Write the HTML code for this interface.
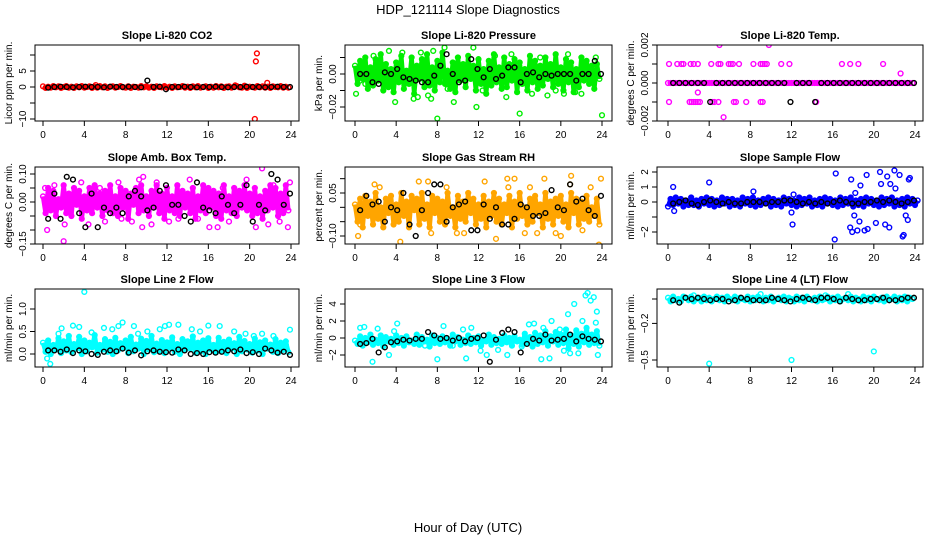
<!DOCTYPE html>
<html><head><meta charset="utf-8"><style>
html,body{margin:0;padding:0;background:#fff;}
svg{display:block;font-family:"Liberation Sans",sans-serif;}
</style></head><body>
<svg id="chart" width="936" height="540" viewBox="0 0 936 540" xmlns="http://www.w3.org/2000/svg">
<rect width="936" height="540" fill="#fff"/>
<text x="468" y="14" text-anchor="middle" font-size="13">HDP_121114  Slope Diagnostics</text>
<text x="468" y="532" text-anchor="middle" font-size="13">Hour of Day (UTC)</text>
</svg>
<script>
// ---- data (band values every 0.25 h; black reference every 0.6 h from 0.5 h; outliers explicit) ----
const hourTicks=[0,4,8,12,16,20,24];
const co2Band=[2,-3,1,-2,3,-1,2,-3,0,3,-2,1,-3,2,-1,3,-2,0,2,-3,1,-2,3,-1,2,-3,1,2,-2,0,3,-1,-2,2,-3,1,0,-2,3,-1,2,-2,1,-3,2,0,-1,3,-2,1,-3,2,-1,0,3,-2,1,-3,2,-1,3,-2,0,2,-3,1,-2,3,-1,2,-3,1,2,-2,0,3,-1,-2,4,-3,1,0,-2,3,-1,2,-2,1,-3,2,0,-1,3,-2,1,-2];
const co2OutHours=[20.5,20.6,20.7,21.7,18.6,5.1];
const co2OutValues=[-100,80,105,13,5,6];
const co2Black=[-2,0,1,0,-1,0,1,0,0,-1,1,0,0,1,0,-1,20,0,1,-7,0,0,1,0,-1,0,0,1,0,-1,0,0,1,0,0,-1,0,1,0,0];
const presBand=[5,-6,8,-3,10,-9,4,-7,9,-4,12,-10,6,-8,3,-11,7,-5,11,-9,2,-6,10,-12,5,-3,9,-8,12,-7,4,-10,8,-5,13,-6,2,-9,7,-11,10,-4,6,-8,11,-3,5,-10,9,-6,3,-12,8,-7,12,-5,4,-9,10,-8,6,-4,9,-11,7,-6,3,-10,11,-5,8,-9,5,-7,10,-3,6,-8,12,-6,4,-10,9,-5,7,-11,3,-8,10,-4,8,-6,5,-9,6,-3];
const presOutHours=[0.1,0.5,1.0,1.8,3.3,3.9,4.6,5.7,6.1,6.4,7.1,7.4,7.6,8.0,8.7,9.0,9.6,11.5,11.8,12.4,13.6,14.7,15.2,16.0,17.2,18.0,18.7,19.5,20.3,20.7,21.4,22.0,23.4,24.0];
const presOutValues=[-12,-4,-6,11,14,-17,13,-15,-14,13,-13,-15,14,-27,16,-9,-17,16,-20,-10,11,-14,12,-24,-12,10,-13,-10,-12,12,-11,-12,10,-25];
const presBlack=[0,0,-5,-6,1,0,3,-2,-3,-4,-5,-5,-1,5,12,0,-5,-4,9,3,-2,3,-3,-1,4,4,-5,0,1,-2,0,-1,0,0,0,-4,0,0,8,0];
const tempBand=[0,0,0,0,0,0,0,0,0,0,0,0,0,0,0,0,0,0,0,0,0,0,0,0,0,0,0,0,0,0,0,0,0,0,0,0,0,0,0,0,0,0,0,0,0,0,0,0,0,0,0,0,0,0,0,0,0,0,0,0,0,0,0,0,0,0,0,0,0,0,0,0,0,0,0,0,0,0,0,0,0,0,0,0,0,0,0,0,0,0,0,0,0,0,0,0];
const tempOutHours=[0.1,0.9,1.3,1.5,2.2,2.5,2.9,4.2,4.9,5.1,5.9,6.1,6.3,6.9,8.3,9.0,9.2,9.4,9.6,11.0,11.8,16.9,17.7,18.5,20.9,5.0,9.8,0.1,2.1,2.3,2.5,2.7,2.9,3.1,4.3,4.5,4.9,6.4,6.6,7.6,9.0,9.2,14.4,2.9,5.4,22.6];
const tempOutValues=[10,10,10,10,10,10,10,10,10,10,10,10,10,10,10,10,10,10,10,10,10,10,10,10,10,20,20,-10,-10,-10,-10,-10,-10,-10,-10,-10,-10,-10,-10,-10,-10,-10,-10,-5,-18,5];
const tempBlack=[0,0,0,0,0,0,-10,0,0,0,0,0,0,0,0,0,0,0,0,-10,0,0,0,-10,0,0,0,0,0,0,0,0,0,0,0,0,0,0,0,0];
const boxBand=[2,-4,5,-3,4,-5,1,-2,6,-4,3,-5,5,-1,4,-6,2,-3,5,-4,6,-2,3,-5,4,-3,6,-4,2,-5,5,-2,4,-6,3,-1,5,-4,6,-3,2,-5,4,-2,6,-4,3,-6,5,-3,2,-4,6,-5,4,-2,3,-4,5,-6,2,-3,6,-4,5,-2,4,-5,3,-6,6,-3,2,-4,5,-5,4,-2,6,-3,3,-5,5,-4,2,-6,4,-3,6,-2,5,-5,3,-4,6,-3];
const boxOutHours=[0.2,0.4,1.1,2.0,2.1,3.7,4.4,5.5,6.0,7.3,7.6,8.6,9.3,9.6,9.7,10.5,11.0,12.2,13.1,14.2,15.0,16.1,16.9,17.4,18.0,19.7,20.6,21.2,21.8,22.3,22.9,23.7,23.9];
const boxOutValues=[5,-10,6,-14,-8,7,-8,5,-7,7,-6,-7,8,-9,9,-8,7,-7,-6,8,-6,-9,-9,5,-7,8,-9,12,-8,6,-7,-9,7];
const boxBlack=[-6,3,-6,9,8,-4,-9,3,-9,-2,-4,-2,-4,2,4,2,-3,-2,4,6,-1,-1,-5,-7,7,-2,-3,-4,2,-1,-4,-1,6,-7,-1,-3,10,8,-1,3];
const rhBand=[1,-5,3,-7,4,-3,2,-6,5,-4,0,-7,3,-2,4,-6,1,-5,5,-3,2,-7,4,-1,3,-6,5,-4,1,-7,4,-2,3,-5,2,-6,5,-3,0,-7,4,-4,2,-5,5,-2,3,-6,1,-4,4,-7,2,-3,5,-5,3,-6,1,-2,4,-7,2,-4,5,-3,0,-6,3,-5,4,-2,1,-7,5,-4,2,-6,3,-3,4,-5,1,-7,5,-2,3,-6,2,-4,4,-5,0,-3,3,-6];
const rhOutHours=[0.3,0.5,1.9,2.4,4.4,6.2,7.1,7.4,8.9,9.9,10.6,12.6,13.7,14.8,14.9,15.5,16.5,17.0,17.7,18.4,19.5,20.0,20.9,21.0,22.1,22.9,23.7,23.9];
const rhOutValues=[-10,-6,8,7,-12,9,9,-9,7,-9,-9,9,-11,10,7,10,-9,7,-9,10,-9,-10,8,11,-8,7,-13,10];
const rhBlack=[-1,4,1,2,-5,0,-1,5,-6,-10,-1,5,8,8,-5,0,1,2,-8,-8,1,-4,0,-6,-6,-4,1,0,-3,-3,-2,6,0,-1,8,2,3,-1,-3,4];
const flowBand=[-3,2,-2,3,-1,2,-3,1,-2,3,-2,1,-3,2,-1,3,-2,2,-3,1,-2,3,-1,2,-3,2,-2,1,-3,3,-1,2,-2,3,-3,1,-2,2,-1,3,-3,2,-2,1,-3,3,-1,2,-2,1,-3,3,-2,2,-1,3,-3,1,-2,2,-3,3,-1,2,-2,1,-3,3,-2,2,-1,3,-3,1,-2,2,-3,3,-1,2,-2,1,-3,3,-2,2,-1,3,-3,1,-2,2,-3,3,-1,2,-2,1];
const flowOutHours=[0.5,0.6,4.0,8.3,12.0,12.1,12.2,16.2,16.3,17.7,17.8,17.9,18.1,18.2,18.4,18.6,18.7,19.1,19.3,19.4,20.2,20.6,20.7,21.1,21.3,21.5,21.6,22.0,22.1,22.5,22.8,22.9,23.1,23.3,23.4,23.5];
const flowOutValues=[10,-6,13,7,-7,-15,5,-25,19,-17,15,-20,-9,6,-19,-13,11,-19,18,-18,-14,20,12,-15,17,-17,12,21,9,18,-23,-22,-9,-12,15,16];
const flowBlack=[-1,0,1,-1,-2,0,1,0,-1,0,-1,-1,0,0,0,-1,0,0,1,1,0,-1,0,-1,0,-1,0,1,0,-1,-1,0,0,1,0,1,0,-1,0,1];
const l2Band=[25,5,30,0,20,10,35,2,28,8,40,4,22,12,38,0,30,6,25,15,42,3,20,10,33,5,27,0,36,8,24,14,30,2,38,6,21,12,34,0,29,10,40,4,23,8,31,2,26,14,37,5,22,0,33,9,28,12,39,3,25,6,30,0,35,10,20,4,36,8,27,2,32,12,24,0,38,6,29,10,22,3,34,8,26,0,30,12,21,5,33,2,25,9,28,4];
const l2OutHours=[0.4,0.7,1.5,1.8,2.9,3.5,4.0,4.7,5.9,6.7,7.3,7.7,8.8,9.2,10.1,11.3,11.8,12.2,13.1,14.4,15.2,16.0,17.1,18.5,19.6,20.4,21.2,22.3,23.5,23.9];
const l2OutValues=[-10,-22,45,57,63,60,138,48,58,55,62,70,62,45,50,55,62,65,65,55,50,63,62,50,45,40,45,40,20,54];
const l2Black=[8,8,5,10,2,8,6,0,-2,5,8,6,12,3,8,-3,6,8,5,4,3,10,8,0,2,0,4,3,5,8,6,10,2,4,0,12,8,3,5,-2];
const l3Band=[-3,-7,2,-9,0,-5,4,-8,-2,-6,3,-10,1,-4,-1,-8,3,-6,0,-9,2,-5,-3,-7,4,-8,1,-4,-2,-10,3,-6,0,-7,2,-5,-1,-9,4,-4,1,-8,-2,-6,3,-7,0,-5,2,-9,-3,-4,4,-8,1,-6,-1,-7,3,-5,0,-9,2,-4,-2,-8,5,-6,1,-10,6,-7,3,-5,8,-9,2,-4,7,-8,4,-6,10,-12,3,-7,9,-10,5,-5,12,-8,4,-6,8,-9];
const l3OutHours=[0.5,0.9,1.7,2.2,3.3,3.8,4.1,6.8,8.0,8.6,9.5,10.5,10.8,11.3,12.2,12.8,13.9,14.8,16.2,16.9,17.4,18.1,18.3,18.9,19.1,19.9,20.3,20.7,20.9,21.3,21.7,22.1,22.4,22.6,22.9,23.2,23.4,23.5,23.6];
const l3OutValues=[12,13,-28,11,-20,8,17,-9,-25,14,-9,10,-24,12,-15,-20,-14,-20,-10,16,17,-25,12,-24,20,10,-15,28,-18,40,-18,20,50,53,44,48,18,31,-20];
const l3Black=[-7,-6,-1,-17,-11,-5,-4,-2,-3,-1,-1,7,3,-1,0,-3,0,-4,-1,0,3,-28,-2,6,10,7,-17,-7,-1,-3,4,-3,-2,-1,4,-4,2,-1,-2,-4];
const l4Band=[1,-2,2,-1,0,-2,2,1,-1,2,-2,0,1,-2,2,-1,1,-2,0,2,-1,1,-2,2,0,-1,2,-2,1,0,-1,2,-2,1,-1,2,0,-2,1,-1,2,-2,0,1,-1,2,-2,1,0,-2,2,-1,1,-2,2,0,-1,1,-2,2,-1,0,2,-2,1,-1,2,-2,0,1,-1,2,-2,1,0,-2,2,-1,1,-2,2,0,-1,1,-2,2,-1,0,2,-2,1,-1,2,-2,1,0];
const l4OutHours=[4.0,12.0,20.0,2.5,9.0,15.3,17.5];
const l4OutValues=[-53,-50,-43,3,4,3,4];
const l4Black=[-1,-3,1,0,1,0,-1,0,0,-2,-1,1,0,-1,-1,-1,1,0,-1,-2,0,1,0,-1,1,1,0,-2,1,0,-1,-1,0,0,1,-1,-1,0,1,1];

// ---- layout ----
const cols=[{x0:35,x1:299,h0:43,h24:291},{x0:345,x1:612,h0:355,h24:602},{x0:657,x1:923,h0:668,h24:915}];
const rows=[{y0:45,y1:121},{y0:167,y1:244},{y0:289,y1:367}];
const panels=[
 {name:'co2',title:'Slope Li-820 CO2',ylab:'Licor ppm per min.',c:0,r:0,unit:0.1,color:'#ff0000',band:co2Band,oh:co2OutHours,ov:co2OutValues,blk:co2Black,ym:[0,87,-10,119],ticks:[-10,-5,0,5,10],labels:[-10,0,5],fmt:v=>String(v).replace('-','\u2212')},
 {name:'pressure',title:'Slope Li-820 Pressure',ylab:'kPa per min.',c:1,r:0,unit:0.001,color:'#00ee00',band:presBand,oh:presOutHours,ov:presOutValues,blk:presBlack,ym:[0,74,-0.02,107],ticks:[-0.02,-0.01,0,0.01],labels:[-0.02,0],fmt:v=>v.toFixed(2).replace('-','\u2212')},
 {name:'temp',title:'Slope Li-820 Temp.',ylab:'degrees C per min.',c:2,r:0,unit:0.0001,color:'#ff00ff',band:tempBand,oh:tempOutHours,ov:tempOutValues,blk:tempBlack,ym:[0,83,0.002,45],ticks:[-0.002,-0.001,0,0.001,0.002],labels:[-0.002,0,0.002],fmt:v=>v.toFixed(3).replace('-','\u2212')},
 {name:'amb-box-temp',title:'Slope Amb. Box Temp.',ylab:'degrees C per min.',c:0,r:1,unit:0.01,color:'#ff00ff',band:boxBand,oh:boxOutHours,ov:boxOutValues,blk:boxBlack,ym:[0,202,0.1,174],ticks:[-0.15,-0.1,-0.05,0,0.05,0.1],labels:[-0.15,0,0.1],fmt:v=>v.toFixed(2).replace('-','\u2212')},
 {name:'gas-rh',title:'Slope Gas Stream RH',ylab:'percent per min.',c:1,r:1,unit:0.01,color:'#ffa500',band:rhBand,oh:rhOutHours,ov:rhOutValues,blk:rhBlack,ym:[0.05,193,-0.1,236],ticks:[-0.1,-0.05,0,0.05,0.1],labels:[-0.1,0.05],fmt:v=>v.toFixed(2).replace('-','\u2212')},
 {name:'sample-flow',title:'Slope Sample Flow',ylab:'ml/min per min.',c:2,r:1,unit:0.1,color:'#0000ff',band:flowBand,oh:flowOutHours,ov:flowOutValues,blk:flowBlack,ym:[0,202,2,172],ticks:[-2,-1,0,1,2],labels:[-2,0,1,2],fmt:v=>String(v).replace('-','\u2212')},
 {name:'line2-flow',title:'Slope Line 2 Flow',ylab:'ml/min per min.',c:0,r:2,unit:0.01,color:'#00ffff',band:l2Band,oh:l2OutHours,ov:l2OutValues,blk:l2Black,ym:[0,354,1,309],ticks:[0,0.5,1],labels:[0,0.5,1],fmt:v=>v.toFixed(1)},
 {name:'line3-flow',title:'Slope Line 3 Flow',ylab:'ml/min per min.',c:1,r:2,unit:0.1,color:'#00ffff',band:l3Band,oh:l3OutHours,ov:l3OutValues,blk:l3Black,ym:[0,338,4,304],ticks:[-2,0,2,4],labels:[-2,0,2,4],fmt:v=>String(v).replace('-','\u2212')},
 {name:'line4-flow',title:'Slope Line 4 (LT) Flow',ylab:'ml/min per min.',c:2,r:2,unit:0.01,color:'#00ffff',band:l4Band,oh:l4OutHours,ov:l4OutValues,blk:l4Black,ym:[0,299,-0.5,360],ticks:[-0.5,-0.2,0],labels:[-0.5,-0.2],fmt:v=>v.toFixed(1).replace('-','\u2212')}
];
const NS='http://www.w3.org/2000/svg';
const svg=document.getElementById('chart');
function mk(tag,attrs,parent){const e=document.createElementNS(NS,tag);for(const k in attrs)e.setAttribute(k,attrs[k]);parent.appendChild(e);return e;}
panels.forEach(p=>{
 const C=cols[p.c],R=rows[p.r];
 const xs=h=>C.h0+(C.h24-C.h0)*h/24;
 const ys=v=>p.ym[1]+(v-p.ym[0])*(p.ym[3]-p.ym[1])/(p.ym[2]-p.ym[0]);
 const g=mk('g',{},svg);
 
 
 const clip=mk('clipPath',{id:'clip-'+p.name},g);
 mk('rect',{x:C.x0,y:R.y0,width:C.x1-C.x0,height:R.y1-R.y0},clip);
 const pts=mk('g',{'clip-path':'url(#clip-'+p.name+')',fill:'none','stroke-width':1.4},g);
 
 
 const bandPath=p.band.map((v,i)=>(i?'L':'M')+xs(i*0.25).toFixed(1)+' '+ys(v*p.unit).toFixed(1)).join(' ');
 const bl=mk('path',{d:bandPath,stroke:p.color,'stroke-width':4.5,'stroke-linejoin':'round',fill:'none'},pts);
 
 
 p.band.forEach((v,i)=>{const c=mk('circle',{cx:xs(i*0.25),cy:ys(v*p.unit),r:2.4,stroke:p.color},pts);
  
  });
 p.oh.forEach((h,i)=>{const c=mk('circle',{cx:xs(h),cy:ys(p.ov[i]*p.unit),r:2.4,stroke:p.color},pts);
  
  });
 p.blk.forEach((v,i)=>{const c=mk('circle',{cx:xs(0.5+i*0.6),cy:ys(v*p.unit),r:2.4,stroke:'#000'},pts);
  
  });
 const box=mk('rect',{x:C.x0,y:R.y0,width:C.x1-C.x0,height:R.y1-R.y0,fill:'none',stroke:'#000','stroke-width':1},g);
 
 
 const t=mk('text',{x:(C.x0+C.x1)/2,y:R.y0-6,'text-anchor':'middle','font-size':11,'font-weight':'bold'},g);
 t.textContent=p.title;
 
 
 const xa=mk('g',{},g);
 
 
 mk('line',{x1:xs(0),x2:xs(24),y1:R.y1,y2:R.y1,stroke:'#000'},xa);
 hourTicks.forEach(h=>{mk('line',{x1:xs(h),x2:xs(h),y1:R.y1,y2:R.y1+5,stroke:'#000'},xa);
  const l=mk('text',{x:xs(h),y:R.y1+17,'text-anchor':'middle','font-size':10},xa);l.textContent=h;
  
  });
 const ya=mk('g',{},g);
 
 
 p.ticks.forEach(v=>{mk('line',{x1:C.x0-5,x2:C.x0,y1:ys(v),y2:ys(v),stroke:'#000'},ya);});
 p.labels.forEach(v=>{const x=C.x0-9,y=ys(v);
  const l=mk('text',{x:x,y:y,'text-anchor':'middle','font-size':10,transform:`rotate(-90 ${x} ${y})`},ya);
  l.textContent=p.fmt(v);
  
  });
 const yx=C.x0-23,yy=(R.y0+R.y1)/2;
 const yl=mk('text',{x:yx,y:yy,'text-anchor':'middle','font-size':10,transform:`rotate(-90 ${yx} ${yy})`},g);
 yl.textContent=p.ylab;
 
 
});
</script>
</body></html>
